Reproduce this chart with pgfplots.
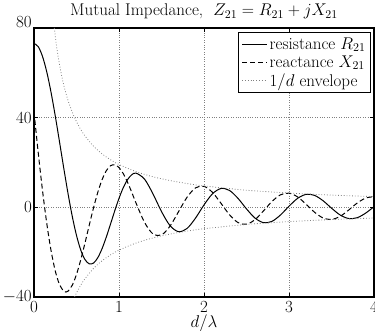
\documentclass[border=0pt]{standalone}
\usepackage{fix-cm}
\usepackage{pgfplots}
\pgfplotsset{compat=1.18}
\begin{document}
\begin{tikzpicture}[font=\fontsize{17}{20}\selectfont]
\begin{axis}[
  name=ax,
  width=340pt, height=269pt, scale only axis,
  xmin=0, xmax=4, ymin=-40, ymax=80,
  xtick={0,1,2,3,4}, ytick={-40,0,40},
  extra y ticks={80},
  extra y tick style={grid=none, yticklabel style={yshift=6pt}},
  grid=major,
  grid style={black!50, dotted, line width=0.6pt},
  tick align=inside, major tick length=4pt,
  tick style={black, line width=0.8pt},
  axis line style={line width=1.1pt},
  xticklabel style={anchor=base, yshift=-15.5pt},
  yticklabel style={inner sep=2pt},
  every axis title/.style={at={(axis description cs:0.5,1)}, anchor=base, yshift=12pt},
  every axis x label/.style={at={(axis description cs:0.5,0)}, anchor=base, yshift=-31pt},
  title={Mutual Impedance,\ \ $Z_{21} = R_{21} + jX_{21}$},
  xlabel={$d/\lambda$},
  legend cell align=left,
  legend style={at={(axis description cs:1,1)}, anchor=north east,
    xshift=-3pt, yshift=-4pt, draw=black, line width=0.9pt, inner sep=3pt,
    row sep=1pt},
  legend image code/.code={\draw[#1] (0pt,0pt) -- (25pt,0pt);},
]
% resistance R21
\addplot[black, line width=1pt, smooth] coordinates {
(0,73.13) (0.05,71.66) (0.1,67.33) (0.15,60.44) (0.2,51.40) (0.25,40.79)
(0.3,29.26) (0.35,17.50) (0.4,6.22) (0.45,-4.00) (0.5,-12.54) (0.55,-19.07)
(0.6,-23.32) (0.65,-25.22) (0.7,-24.87) (0.75,-22.50) (0.8,-18.50) (0.85,-13.32)
(0.9,-7.50) (0.95,-1.56) (1,4.01) (1.05,8.75) (1.1,12.33) (1.15,14.53)
(1.2,15.26) (1.3,12.61) (1.4,5.98) (1.5,-1.89) (1.6,-8.16) (1.7,-10.87)
(1.8,-9.45) (1.9,-4.82) (2,1.08) (2.1,6.05) (2.2,8.41) (2.3,7.53)
(2.4,4.00) (2.5,-0.70) (2.6,-4.79) (2.7,-6.85) (2.8,-6.25) (2.9,-3.41)
(3,0.49) (3.1,3.97) (3.2,5.77) (3.3,5.34) (3.4,2.97) (3.5,-0.36)
(3.6,-3.38) (3.7,-4.98) (3.8,-4.66) (3.9,-2.63) (4,0.28)};
\addlegendentry{resistance $R_{21}$}
% reactance X21
\addplot[black, line width=1pt, dash pattern=on 5pt off 3pt, smooth] coordinates {
(0,42.54) (0.05,24.27) (0.1,7.54) (0.15,-7.10) (0.2,-19.17) (0.25,-28.35)
(0.3,-34.44) (0.35,-37.42) (0.375,-37.80) (0.4,-37.43) (0.45,-34.76) (0.5,-29.93)
(0.55,-23.42) (0.6,-15.88) (0.65,-7.95) (0.7,-0.26) (0.75,6.63) (0.8,12.25)
(0.85,16.29) (0.9,18.55) (0.95,19.00) (1,17.75) (1.05,15.05) (1.1,11.24)
(1.15,6.72) (1.2,1.94) (1.3,-6.69) (1.4,-11.89) (1.5,-12.32) (1.6,-8.40)
(1.7,-1.97) (1.8,4.47) (1.9,8.67) (2,9.37) (2.1,6.66) (2.2,1.79)
(2.3,-3.31) (2.4,-6.80) (2.5,-7.55) (2.6,-5.50) (2.7,-1.59) (2.8,2.62)
(2.9,5.59) (3,6.31) (3.1,4.68) (3.2,1.42) (3.3,-2.16) (3.4,-4.74)
(3.5,-5.42) (3.6,-4.07) (3.7,-1.28) (3.8,1.84) (3.9,4.11) (4,4.75)};
\addlegendentry{reactance $X_{21}$}
% 1/d envelope
\addplot[black!50, line width=0.8pt, dotted, smooth] coordinates {
(0.2387,80.01) (0.26,73.46) (0.28,68.21) (0.3,63.66) (0.33,57.87) (0.36,53.05)
(0.4,47.75) (0.45,42.44) (0.5,38.20) (0.55,34.72) (0.6,31.83) (0.7,27.28)
(0.8,23.87) (0.9,21.22) (1,19.10) (1.2,15.92) (1.4,13.64) (1.6,11.94)
(1.8,10.61) (2,9.55) (2.5,7.64) (3,6.37) (3.5,5.46) (4,4.77)};
\addlegendentry{$1/d$ envelope}
\addplot[black!50, line width=0.8pt, dotted, smooth, forget plot] coordinates {
(0.4775,-40.00) (0.5,-38.20) (0.55,-34.72) (0.6,-31.83) (0.7,-27.28)
(0.8,-23.87) (0.9,-21.22) (1,-19.10) (1.2,-15.92) (1.4,-13.64) (1.6,-11.94)
(1.8,-10.61) (2,-9.55) (2.5,-7.64) (3,-6.37) (3.5,-5.46) (4,-4.77)};
\end{axis}
\pgfresetboundingbox
\path[use as bounding box] ([xshift=-34pt,yshift=-34pt]ax.south west)
  rectangle ([xshift=1pt,yshift=28pt]ax.north east);
\end{tikzpicture}
\end{document}
